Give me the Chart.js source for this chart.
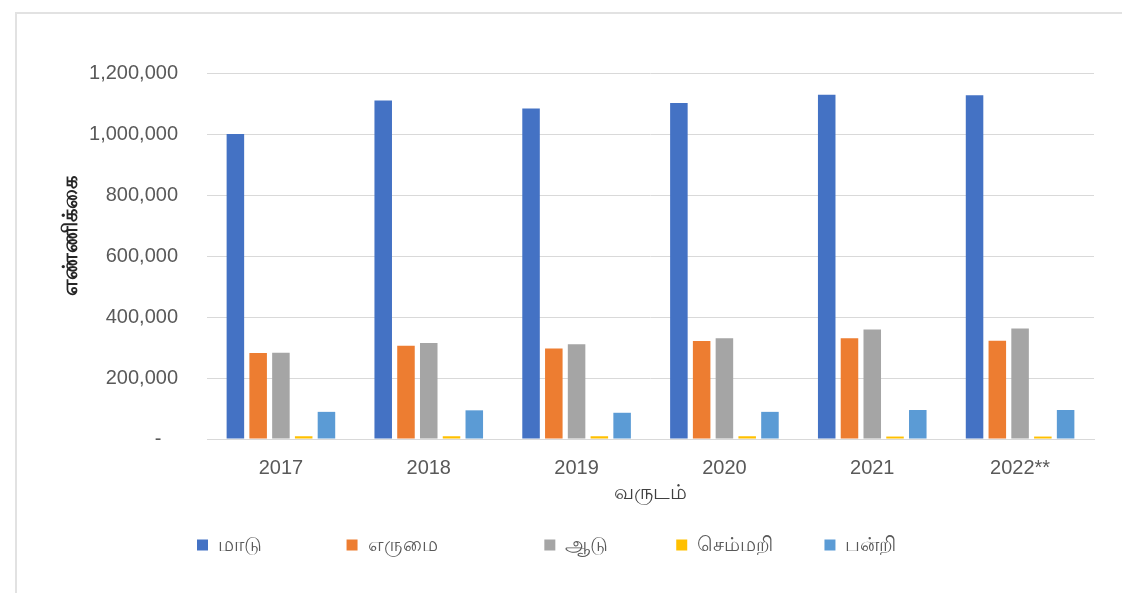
<!DOCTYPE html>
<html>
<head>
<meta charset="utf-8">
<script src="https://cdn.jsdelivr.net/npm/chart.js@4/dist/chart.umd.min.js"></script>
<style>
  html, body { margin: 0; padding: 0; background: #fff; overflow: hidden; }
  #frame { position: absolute; left: 15px; top: 12px; width: 1300px; height: 800px; border: 2px solid #e2e2e2; }
  #wrap { position: absolute; left: 0; top: 0; width: 1122px; height: 593px; }
</style>
</head>
<body>
<div id="frame"></div>
<div id="wrap"><canvas id="livestock"></canvas></div>
<script>
// years on x axis, livestock counts per series
const YEARS   = ["2017", "2018", "2019", "2020", "2021", "2022**"];
const CATTLE  = [1000000, 1110000, 1084000, 1102000, 1129000, 1127000];
const BUFFALO = [282000, 306000, 297000, 321000, 330000, 322000];
const GOAT    = [283000, 315000, 311000, 330000, 359000, 362000];
const SHEEP   = [9000, 9000, 9000, 9000, 8000, 8000];
const PIG     = [89000, 94000, 86000, 89000, 95000, 95000];

const NAMES  = ["மாடு", "எருமை", "ஆடு", "செம்மறி", "பன்றி"];
const COLORS = ["#4472C4", "#ED7D31", "#A5A5A5", "#FFC000", "#5B9BD5"];
const SERIES = [CATTLE, BUFFALO, GOAT, SHEEP, PIG];

// extra space after each legend entry (in nbsp chars), the original legend is unevenly spaced
const LEGEND_GAP = [10, 14, 7, 4, 10];

const Y_MAX = 1200000, Y_STEP = 200000;
const TXT = "#595959";
const GRID = "#d9d9d9";
const FONT = "'Liberation Sans', Arial, sans-serif";

function fmt(v) {
  if (v === 0) return "-   ";
  return v.toLocaleString("en-US");
}

const datasets = SERIES.map((data, i) => ({
  label: NAMES[i],
  data,
  backgroundColor: COLORS[i],
  borderWidth: 0,
  categoryPercentage: 0.77,
  barPercentage: 0.77
}));

new Chart(document.getElementById("livestock"), {
  type: "bar",
  data: { labels: YEARS, datasets },
  options: {
    responsive: true,
    maintainAspectRatio: false,
    animation: false,
    layout: { padding: { left: 55, right: 28, top: 73, bottom: 28 } },
    plugins: {
      tooltip: { enabled: false },
      legend: {
        position: "bottom",
        align: "center",
        labels: {
          boxWidth: 11, boxHeight: 11, padding: 29,
          color: TXT, font: { family: FONT, size: 20 },
          generateLabels(chart) {
            const items = Chart.defaults.plugins.legend.labels.generateLabels(chart);
            items.forEach((it, i) => { it.text = it.text + "\u00A0".repeat(LEGEND_GAP[i]); });
            return items;
          }
        }
      }
    },
    scales: {
      x: {
        grid: { display: false, drawTicks: false },
        border: { display: true, color: GRID, width: 1 },
        ticks: { color: TXT, font: { family: FONT, size: 20 }, padding: 17, maxRotation: 0 },
        title: { display: true, text: "வருடம்", color: "#404040", font: { family: FONT, size: 21 }, padding: { top: 2, bottom: 0 } },
        afterFit(s) { s.height = 67; }
      },
      y: {
        min: 0, max: Y_MAX,
        grid: { color: GRID, lineWidth: 1, drawTicks: false },
        border: { display: false },
        ticks: { stepSize: Y_STEP, color: TXT, font: { family: FONT, size: 20 }, padding: 29, callback: fmt },
        // leading nbsp nudges the rotated title a bit up, as in the original
        title: { display: true, text: "\u00A0".repeat(7) + "எண்ணிக்கை", color: "#262626", font: { family: FONT, size: 21, weight: "bold" } },
        afterFit(s) { s.width = 152; }
      }
    }
  }
});
</script>
</body>
</html>
